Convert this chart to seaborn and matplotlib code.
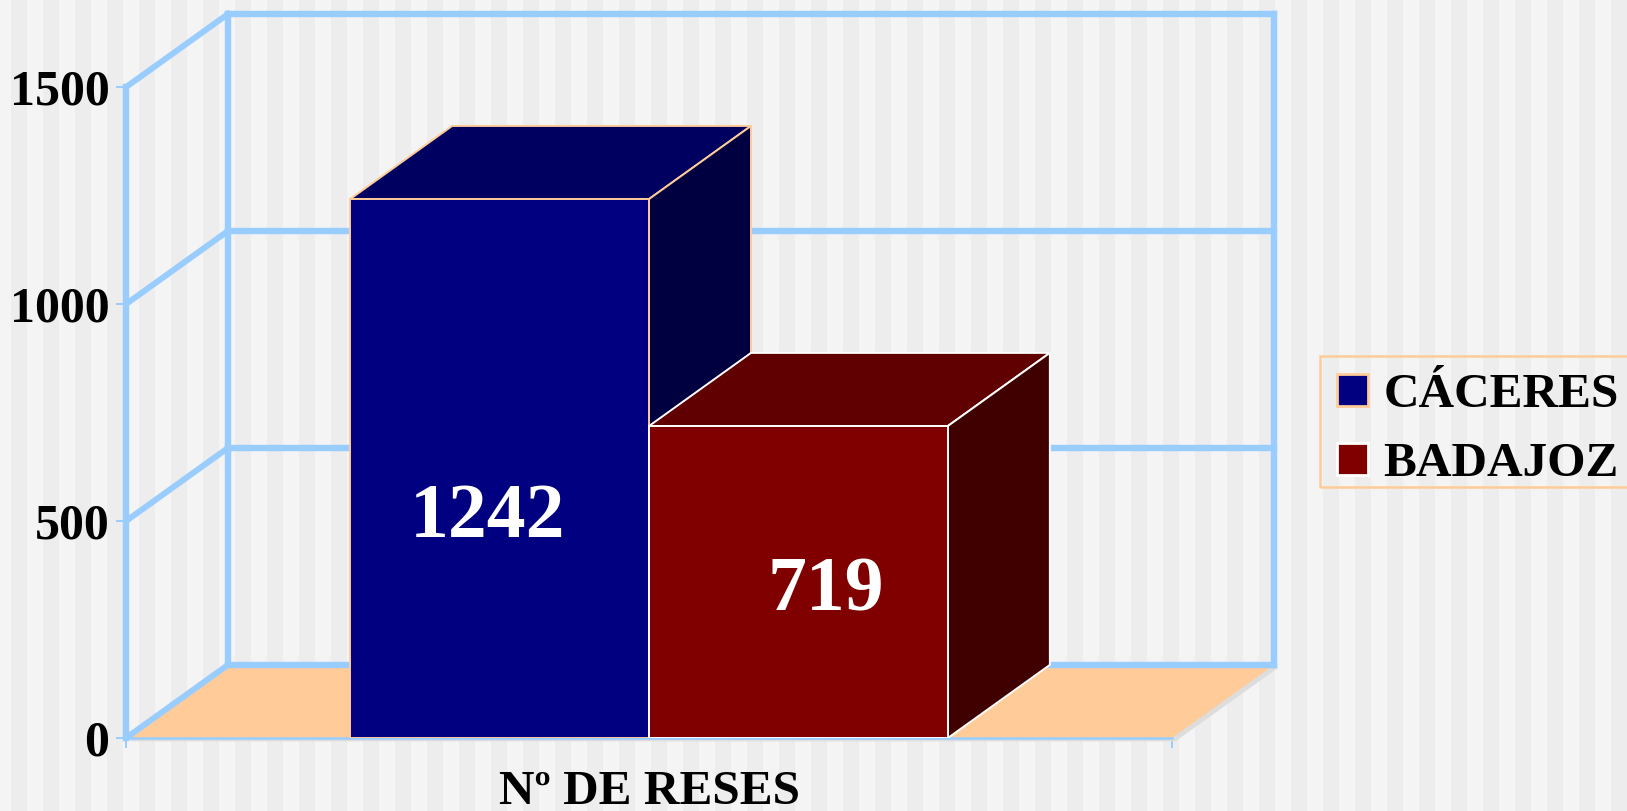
import pandas as pd
import seaborn as sns
import matplotlib.pyplot as plt
from matplotlib.patches import Patch, Polygon, Rectangle

# data
provinces = ["CÁCERES", "BADAJOZ"]
head_count = [1242, 719]
group_name = ["Nº DE RESES"]
y_ticks = [0, 500, 1000, 1500]

# colours
front_colors = ["#000080", "#800000"]
top_colors = ["#000060", "#600000"]
side_colors = ["#000040", "#400000"]
edge_colors = ["#FFCC99", "#FFFFFF"]
wall_color = "#99CCFF"
floor_color = "#FFCC99"
shadow_color = "#DDDDDD"

# fake 3D depth, in data units
DEPTH_X = 0.0975
DEPTH_Y = 168.5
Y_TOP = 1500

# where the value labels sit relative to the bar centre
label_shift_x = [-0.012, 0.026]
label_y = [505, 337]

sns.set_style("white")
plt.rcParams["font.family"] = ["Liberation Serif", "DejaVu Serif"]
plt.rcParams["font.weight"] = "bold"
plt.rcParams["text.color"] = "black"
plt.rcParams["xtick.labelcolor"] = "black"
plt.rcParams["ytick.labelcolor"] = "black"

W, H = 1627, 811
fig = plt.figure(figsize=(W / 100, H / 100), dpi=100, facecolor="#F4F4F4")

# striped background
bg = fig.add_axes([0, 0, 1, 1])
bg.set_xlim(0, W)
bg.set_ylim(0, H)
bg.axis("off")
for left in range(-21, W, 32):
    bg.axvspan(left, left + 16, color="#EDEDED", lw=0)

# legend box, open on the right edge like the original
bg.add_patch(Rectangle((1320, H - 487), 400, 131, fc="none", ec=floor_color, lw=1.8))

ax = fig.add_axes([126 / W, (H - 738) / H, (1274 - 126) / W, (738 - 14) / H])
ax.patch.set_alpha(0)

df = pd.DataFrame({
    "group": group_name * len(provinces),
    "province": provinces,
    "count": head_count,
})
sns.barplot(data=df, x="group", y="count", hue="province", hue_order=provinces,
            palette=front_colors, width=4 / 7, saturation=1, legend=False, ax=ax)

ax.set_xlim(-0.5, 0.5 + DEPTH_X)
ax.set_ylim(0, Y_TOP + DEPTH_Y)
x0, x1 = -0.5, 0.5
dx, dy = DEPTH_X, DEPTH_Y

# floor and its shadow
sx, sy = dx * 0.035, -dy * 0.045
floor = [(x0, 0), (x1, 0), (x1 + dx, dy), (x0 + dx, dy)]
ax.add_patch(Polygon([(a + sx, b + sy) for a, b in floor], fc=shadow_color, ec="none",
                     zorder=1, clip_on=False))
ax.add_patch(Polygon(floor, fc=floor_color, ec="none", zorder=1.1, clip_on=False))

# walls
for tick in y_ticks:
    ax.plot([x0, x0 + dx], [tick, tick + dy], color=wall_color, lw=4.3, zorder=2,
            clip_on=False, solid_capstyle="projecting")
    ax.plot([x0 + dx, x1 + dx], [tick + dy, tick + dy], color=wall_color, lw=4.6, zorder=2,
            clip_on=False, solid_capstyle="projecting")
for x in [x0 + dx, x1 + dx]:
    ax.plot([x, x], [dy, Y_TOP + dy], color=wall_color, lw=4.6, zorder=2, clip_on=False,
            solid_capstyle="projecting")

# bars: barplot gives the front face, the top and side faces follow from it
for i, bar in enumerate(ax.patches[:len(provinces)]):
    left, w, h = bar.get_x(), bar.get_width(), bar.get_height()
    right = left + w
    z = 3 + i
    bar.set_edgecolor(edge_colors[i])
    bar.set_linewidth(1.4)
    bar.set_zorder(z + 0.2)
    ax.add_patch(Polygon([(left, h), (right, h), (right + dx, h + dy), (left + dx, h + dy)],
                         fc=top_colors[i], ec=edge_colors[i], lw=1.4, zorder=z, joinstyle="round"))
    ax.add_patch(Polygon([(right, 0), (right + dx, dy), (right + dx, h + dy), (right, h)],
                         fc=side_colors[i], ec=edge_colors[i], lw=1.4, zorder=z, joinstyle="round"))
    ax.text(left + w / 2 + label_shift_x[i], label_y[i], str(head_count[i]), color="white",
            fontsize=56, fontweight="bold", ha="center", va="center", zorder=z + 1)

# axes
sns.despine(ax=ax, top=True, right=True)
ax.spines["left"].set_bounds(0, Y_TOP)
ax.spines["left"].set_color(wall_color)
ax.spines["left"].set_linewidth(4.6)
ax.spines["left"].set_zorder(2.5)
ax.spines["bottom"].set_bounds(x0, x1)
ax.spines["bottom"].set_color(wall_color)
ax.spines["bottom"].set_linewidth(1.8)
ax.spines["bottom"].set_zorder(2.5)

ax.set_xlabel("")
ax.set_ylabel("")
ax.set_yticks(y_ticks)
ax.tick_params(axis="y", left=True, length=7, width=1.4, color=wall_color, pad=5, labelsize=36)
ax.set_xticks([x0, x1], minor=True)
ax.tick_params(axis="x", which="minor", bottom=True, length=7, width=1.4, color=wall_color)
ax.tick_params(axis="x", which="major", length=0, pad=23, labelsize=35.5)

handles = [Patch(fc=c, ec=e, lw=2, label=p) for c, e, p in zip(front_colors, edge_colors, provinces)]
ax.legend(handles=handles, loc="upper left", bbox_to_anchor=(1320 / W, (H - 356) / H),
          bbox_transform=fig.transFigure, borderaxespad=0, borderpad=0.35, fontsize=35.5,
          handlelength=0.62, handleheight=0.62, handletextpad=0.32, labelspacing=0.5,
          frameon=False)

fig.savefig("out.png", dpi=100, facecolor=fig.get_facecolor())
